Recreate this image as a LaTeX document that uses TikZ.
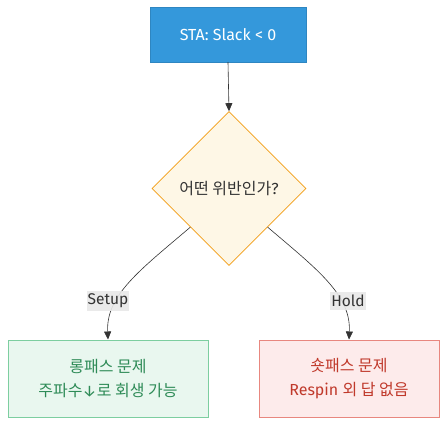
\documentclass[tikz,border=0pt]{standalone}
\usepackage{fontspec}
\setmainfont{Fira Sans}
\newfontfamily\kr{Noto Sans CJK KR}
\usetikzlibrary{shapes.geometric,arrows.meta,calc}
\definecolor{stafill}{HTML}{3498DB}
\definecolor{staline}{HTML}{2E86C1}
\definecolor{diafill}{HTML}{FEF7E6}
\definecolor{dialine}{HTML}{F39C12}
\definecolor{gfill}{HTML}{E9F7EF}
\definecolor{gline}{HTML}{7DCEA0}
\definecolor{gtext}{HTML}{2E8B57}
\definecolor{rfill}{HTML}{FDEBEB}
\definecolor{rline}{HTML}{E8877F}
\definecolor{rtext}{HTML}{C0392B}
\definecolor{edgec}{HTML}{333333}
\definecolor{lblfill}{HTML}{E8E8E8}
\tikzset{
  box/.style={rectangle, inner sep=0pt, align=center, font=\fontsize{16}{24}\selectfont},
  stabox/.style={box, fill=stafill, draw=staline, text=white, minimum width=156pt, minimum height=55pt},
  decision/.style={diamond, fill=diafill, draw=dialine, line width=0.6pt, inner sep=0pt, minimum width=154pt, minimum height=154pt, font=\fontsize{16}{19}\selectfont, text=edgec},
  goodbox/.style={box, fill=gfill, draw=gline, line width=1pt, text=gtext, minimum width=200pt, minimum height=77pt},
  badbox/.style={box, fill=rfill, draw=rline, line width=1pt, text=rtext, minimum width=180pt, minimum height=77pt},
  edge/.style={draw=edgec, line width=0.6pt, -{Triangle[length=8pt,width=7pt]}},
  lbl/.style={fill=lblfill, fill opacity=0.9, text opacity=1, text=edgec, inner xsep=1pt, inner ysep=3pt, font=\fontsize{15.5}{18}\selectfont}
}
\begin{document}
\begin{tikzpicture}[x=1pt,y=-1pt]
\useasboundingbox (0,0) rectangle (447,426);
\fill[white] (0,0) rectangle (447,426);
\node[stabox] (sta) at (228,34.5) {STA: Slack < 0};
\node[decision] (dia) at (229,188.5) {{\kr 어떤 위반인가}?};
\node[goodbox] (long) at (108,378.5) {{\kr 롱패스 문제}\\{\kr 주파수}↓{\kr 로 회생 가능}};
\node[badbox] (short) at (349,378.5) {{\kr 숏패스 문제}\\Respin {\kr 외 답 없음}};
\coordinate (ls) at ($(dia.west)!0.5!(dia.south)$);
\coordinate (rs) at ($(dia.east)!0.5!(dia.south)$);
\draw[edge] (sta.south) -- (dia.north);
\draw[edge] (ls) .. controls (140,270) and (106,295) .. (long.north);
\draw[edge] (rs) .. controls (318,270) and (351,295) .. (short.north);
\node[lbl] (lsetup) at (108,301) {Setup};
\node[lbl] (lhold) at (348,301) {Hold};
\end{tikzpicture}
\end{document}
